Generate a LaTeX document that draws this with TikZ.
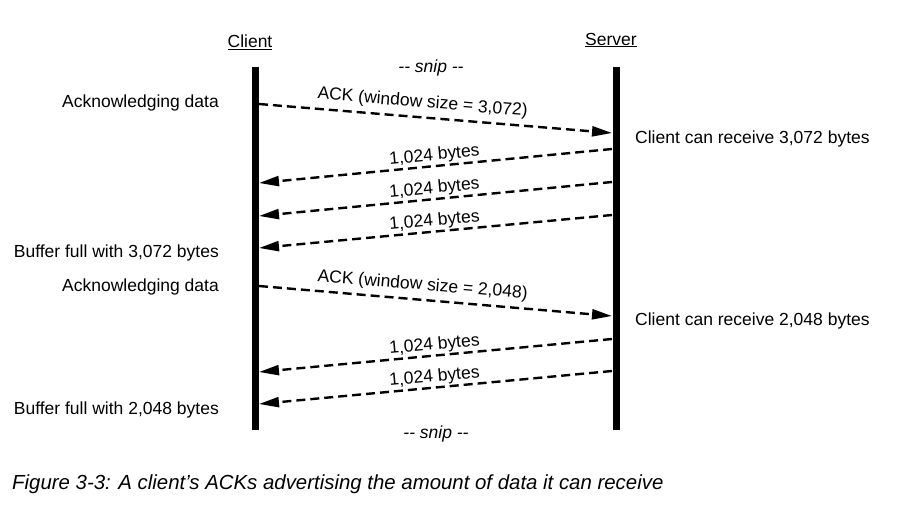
\documentclass[tikz,border=0pt]{standalone}
\usepackage{fontspec}
\setmainfont{Liberation Sans}
\usetikzlibrary{arrows.meta}
\begin{document}
\begin{tikzpicture}[x=1pt,y=-1pt,
  txt/.style={font=\fontsize{17.5}{20}\selectfont, inner sep=0pt},
  itxt/.style={font=\fontsize{17.5}{20}\selectfont\itshape, inner sep=0pt},
  captxt/.style={font=\fontsize{20.4}{24}\selectfont\itshape, inner sep=0pt},
  lifeline/.style={line width=7pt},
  msg/.style={line width=2.4pt, dash pattern=on 9pt off 5pt, -{Triangle[length=20pt,width=10pt]}},
  lbl/.style={txt, sloped, above, inner sep=1pt},
  acklbl/.style={txt, sloped, above=4pt, inner sep=1pt, pos=0.46}]
\useasboundingbox (0,0) rectangle (924,514);

% headers
\node[txt] (client) at (250,42) {\underline{Client}};
\node[txt] (server) at (611,40) {\underline{Server}};
\node[itxt] (snip1) at (431,68) {-{}- snip -{}-};
\node[itxt] (snip2) at (436,434) {-{}- snip -{}-};

% lifelines
\coordinate (ctop) at (255.5,67);
\coordinate (cbot) at (255.5,430);
\coordinate (stop) at (616,67);
\coordinate (sbot) at (616,430);
\draw[lifeline] (ctop) -- (cbot);
\draw[lifeline] (stop) -- (sbot);

% message end points
\coordinate (c1) at (259,104);  \coordinate (s1) at (612,133);
\coordinate (s2) at (612,149);  \coordinate (c2) at (259,183);
\coordinate (s3) at (612,182);  \coordinate (c3) at (259,216);
\coordinate (s4) at (612,215);  \coordinate (c4) at (259,248);
\coordinate (c5) at (259,286);  \coordinate (s5) at (612,316);
\coordinate (s6) at (612,339);  \coordinate (c6) at (259,372);
\coordinate (s7) at (612,371);  \coordinate (c7) at (259,404);

\draw[msg] (c1) -- node[acklbl] (l1) {ACK (window size = 3,072)} (s1);
\draw[msg] (s2) -- node[lbl] (l2) {1,024 bytes} (c2);
\draw[msg] (s3) -- node[lbl] (l3) {1,024 bytes} (c3);
\draw[msg] (s4) -- node[lbl] (l4) {1,024 bytes} (c4);
\draw[msg] (c5) -- node[acklbl] (l5) {ACK (window size = 2,048)} (s5);
\draw[msg] (s6) -- node[lbl] (l6) {1,024 bytes} (c6);
\draw[msg] (s7) -- node[lbl] (l7) {1,024 bytes} (c7);

% side notes
\node[txt, anchor=east] (n1) at (219,103) {Acknowledging data};
\node[txt, anchor=west] (n2) at (635,139) {Client can receive 3,072 bytes};
\node[txt, anchor=east] (n3) at (219,253) {Buffer full with 3,072 bytes};
\node[txt, anchor=east] (n4) at (219,287) {Acknowledging data};
\node[txt, anchor=west] (n5) at (635,321) {Client can receive 2,048 bytes};
\node[txt, anchor=east] (n6) at (219,410) {Buffer full with 2,048 bytes};

% caption
\node[captxt, anchor=west] (cap) at (12,484) {Figure 3-3: A client’s ACKs advertising the amount of data it can receive};
\end{tikzpicture}
\end{document}
